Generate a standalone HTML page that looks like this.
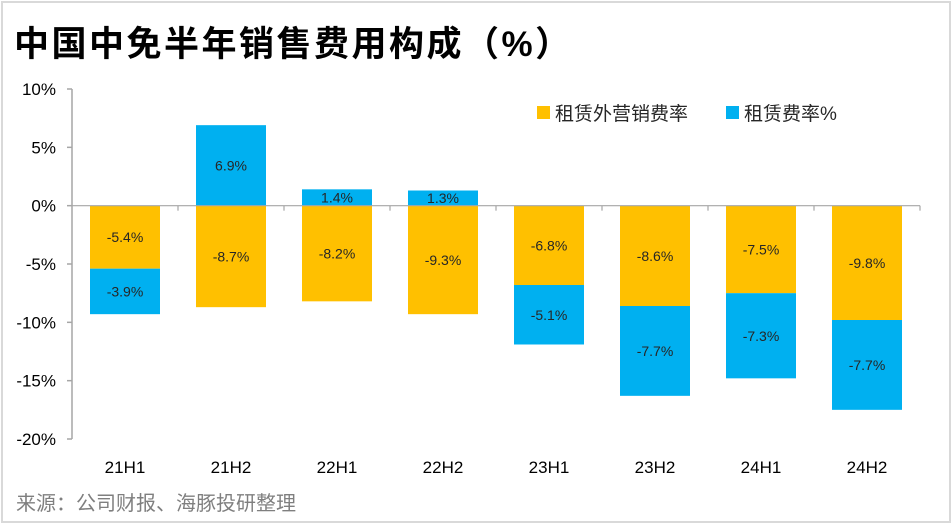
<!DOCTYPE html>
<html><head><meta charset="utf-8">
<style>
body{margin:0;background:#fff;}
#wrap{position:relative;width:952px;height:523px;overflow:hidden;background:#fff;font-family:"Liberation Sans","Noto Sans CJK SC",sans-serif;}
#frame{position:absolute;left:1px;top:1px;width:946px;height:518px;border:2px solid #d9d9d9;}
#title{position:absolute;left:14px;top:16px;font-size:35px;font-weight:bold;color:#000;letter-spacing:2.5px;}
#src{position:absolute;left:16px;top:487px;font-size:20px;color:#7f7f7f;}
svg{position:absolute;left:0;top:0;}
</style></head><body>
<div id="wrap">
<div id="frame"></div>
<div id="title">中国中免半年销售费用构成（%）</div>
<div id="src">来源：公司财报、海豚投研整理</div>
<svg id="chart" width="952" height="523"></svg>
</div>
<script>
const categories=["21H1","21H2","22H1","22H2","23H1","23H2","24H1","24H2"];
const otherSelling=[-5.4,-8.7,-8.2,-9.3,-6.8,-8.6,-7.5,-9.8];
const rentRate=[-3.9,6.9,1.4,1.3,-5.1,-7.7,-7.3,-7.7];
const yTicks=[10,5,0,-5,-10,-15,-20];
const seriesNames=["租赁外营销费率","租赁费率%"];

const svg=document.getElementById('chart');
const NS='http://www.w3.org/2000/svg';
const X0=72,X1=920,Y_TOP=89,Y_BOT=439,YMAX=10,YMIN=-20;
const y=v=>Y_TOP+(YMAX-v)/(YMAX-YMIN)*(Y_BOT-Y_TOP);
const step=(X1-X0)/categories.length;
const xc=i=>X0+step*(i+0.5);
const BW=70;
function mk(t,a){const e=document.createElementNS(NS,t);for(const k in a)e.setAttribute(k,a[k]);svg.appendChild(e);return e;}
const ORANGE='#FFC000',BLUE='#00B0F0',AX='#a6a6a6';

let e=mk('line',{x1:X0,y1:Y_TOP,x2:X0,y2:Y_BOT,stroke:AX,'stroke-width':1.5});


yTicks.forEach(v=>{
  let t=mk('line',{x1:X0-5,y1:y(v),x2:X0,y2:y(v),stroke:AX,'stroke-width':1.5});
  
  
  let l=mk('text',{x:56,y:y(v)+6,'text-anchor':'end','font-size':17,fill:'#000'});
  l.textContent=v+'%';
  
  
});

categories.forEach((c,i)=>{
  const o=otherSelling[i],b=rentRate[i];
  let r=mk('rect',{x:xc(i)-BW/2,y:Math.min(y(0),y(o)),width:BW,height:Math.abs(y(o)-y(0)),fill:ORANGE});
  
  
  let base=b<0?o:0;
  let y1=y(base),y2=y(base+b);
  let r2=mk('rect',{x:xc(i)-BW/2,y:Math.min(y1,y2),width:BW,height:Math.abs(y2-y1),fill:BLUE});
  
  
  let t=mk('text',{x:xc(i),y:(y(0)+y(o))/2+5,'text-anchor':'middle','font-size':14,fill:'#262626'});
  t.textContent=o.toFixed(1)+'%';
  
  
  let t2=mk('text',{x:xc(i),y:(y1+y2)/2+5,'text-anchor':'middle','font-size':14,fill:'#262626'});
  t2.textContent=b.toFixed(1)+'%';
  
  
  let cl=mk('text',{x:xc(i),y:473,'text-anchor':'middle','font-size':17,fill:'#000'});
  cl.textContent=c;
  
  
});
e=mk('line',{x1:X0,y1:y(0),x2:X1,y2:y(0),stroke:AX,'stroke-width':1.2});


for(let i=1;i<=categories.length;i++){
  let t=mk('line',{x1:X0+step*i,y1:y(0),x2:X0+step*i,y2:y(0)+5,stroke:AX,'stroke-width':1.2});
  
  
}
[[537,ORANGE,seriesNames[0]],[726,BLUE,seriesNames[1]]].forEach((d,k)=>{
  let s=mk('rect',{x:d[0],y:106,width:13,height:13,fill:d[1]});
  
  
  let t=mk('text',{x:d[0]+18,y:120,'font-size':19,fill:'#262626'});
  t.textContent=d[2];
  
  
});
</script>
</body></html>
